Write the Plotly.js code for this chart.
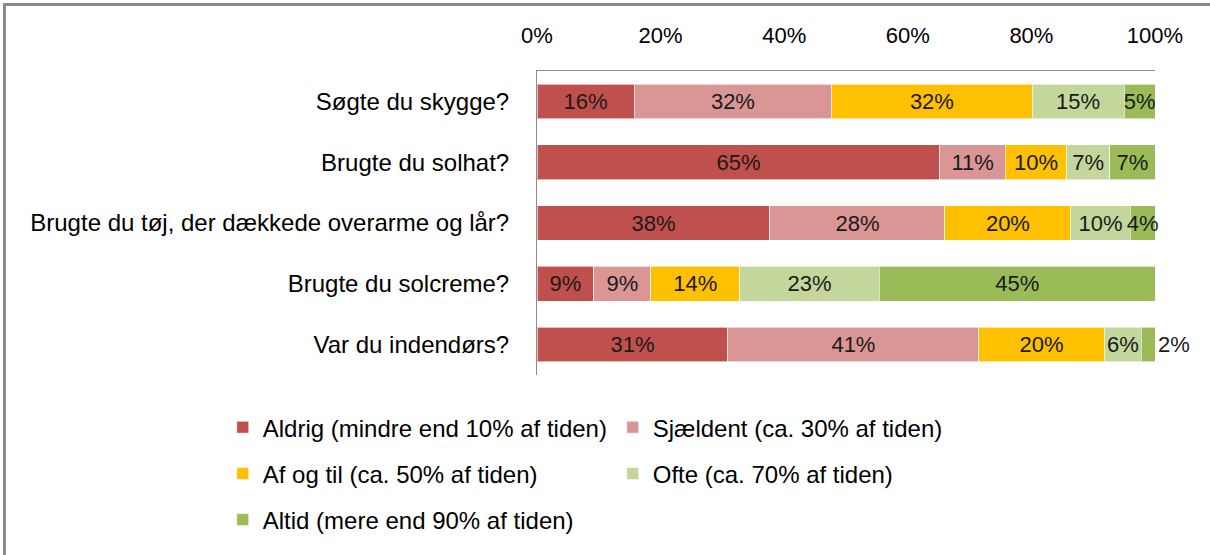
<!DOCTYPE html>
<html>
<head>
<meta charset="utf-8">
<script src="https://cdn.plot.ly/plotly-3.0.1.min.js"></script>
<style>
  html, body { margin: 0; padding: 0; background: #fff; }
  #frame { position: absolute; left: 3px; top: 3px; width: 1207px; height: 552px; border-top: 3px solid #8a8a8a; border-left: 3px solid #8a8a8a; box-sizing: border-box; }
  #chart { position: absolute; left: 0; top: 0; width: 1210px; height: 555px; }
</style>
</head>
<body>
<div id="chart"></div>
<div id="frame"></div>
<script>
// Categories (top to bottom)
var categories = [
  "Søgte du skygge?",
  "Brugte du solhat?",
  "Brugte du tøj, der dækkede overarme og lår?",
  "Brugte du solcreme?",
  "Var du indendørs?"
];

var seriesNames = [
  "Aldrig (mindre end 10% af tiden)",
  "Sjældent (ca. 30% af tiden)",
  "Af og til (ca. 50% af tiden)",
  "Ofte (ca. 70% af tiden)",
  "Altid (mere end 90% af tiden)"
];

// Shares in percent per category (same order as categories)
var aldrig    = [15.7, 65.2, 37.7,  9.2, 30.9];
var sjaeldent = [32.0, 10.6, 28.3,  9.2, 40.6];
var afogtil   = [32.4,  9.9, 20.4, 14.4, 20.3];
var ofte      = [14.9,  7.0,  9.6, 22.6,  6.0];
var altid     = [ 5.0,  7.3,  4.0, 44.6,  2.2];

var tickValues = [0, 20, 40, 60, 80, 100];
var tickLabels = ["0%", "20%", "40%", "60%", "80%", "100%"];

var colors = ["#C0504D", "#D99694", "#FFC000", "#C3D69B", "#9BBB59"];

var FONT = "Liberation Sans, Arial, sans-serif";
var seriesValues = [aldrig, sjaeldent, afogtil, ofte, altid];

var traces = seriesValues.map(function (vals, i) {
  var pos = vals.map(function (v, j) {
    return (i === 4 && j === 4) ? "outside" : "inside";
  });
  return {
    type: "bar",
    orientation: "h",
    name: seriesNames[i],
    legendgroup: "g" + i,
    y: categories,
    x: vals,
    marker: { color: colors[i], line: { color: "rgba(255,255,255,0.6)", width: 1 } },
    texttemplate: "%{x:.0f}%",
    textposition: pos,
    textangle: 0,
    insidetextanchor: "middle",
    constraintext: "none",
    cliponaxis: false,
    textfont: { family: FONT, size: 22, color: "#1a1a1a" },
    insidetextfont: { family: FONT, size: 22, color: "#1a1a1a" },
    outsidetextfont: { family: FONT, size: 22, color: "#1a1a1a" },
    hoverinfo: "skip"
  };
});

var layout = {
  width: 1210,
  height: 555,
  barmode: "stack",
  bargap: 0.43,
  paper_bgcolor: "#ffffff",
  plot_bgcolor: "#ffffff",
  margin: { l: 537, r: 55, t: 71, b: 180, pad: 0 },
  font: { family: FONT, size: 22, color: "#000" },
  xaxis: {
    side: "top",
    range: [0, 100],
    tickvals: tickValues,
    ticktext: tickLabels,
    showgrid: false,
    zeroline: false,
    showline: true,
    linecolor: "#8c8c8c",
    linewidth: 1,
    ticks: "",
    ticklabelstandoff: 18,
    tickfont: { family: FONT, size: 22, color: "#000" },
    fixedrange: true
  },
  yaxis: {
    autorange: "reversed",
    showgrid: false,
    zeroline: false,
    showline: true,
    linecolor: "#8c8c8c",
    linewidth: 1,
    ticks: "",
    ticklabelstandoff: 22,
    tickfont: { family: FONT, size: 24, color: "#000" },
    fixedrange: true
  },
  showlegend: true,
  legend: {
    orientation: "h",
    traceorder: "grouped",
    tracegroupgap: 12,
    x: -0.5085,
    xanchor: "left",
    y: -0.099,
    yanchor: "top",
    entrywidth: 345,
    font: { family: FONT, size: 24, color: "#000" },
    bgcolor: "rgba(0,0,0,0)",
    itemclick: false,
    itemdoubleclick: false
  }
};

Plotly.newPlot("chart", traces, layout, { displayModeBar: false, staticPlot: true });
</script>
</body>
</html>
